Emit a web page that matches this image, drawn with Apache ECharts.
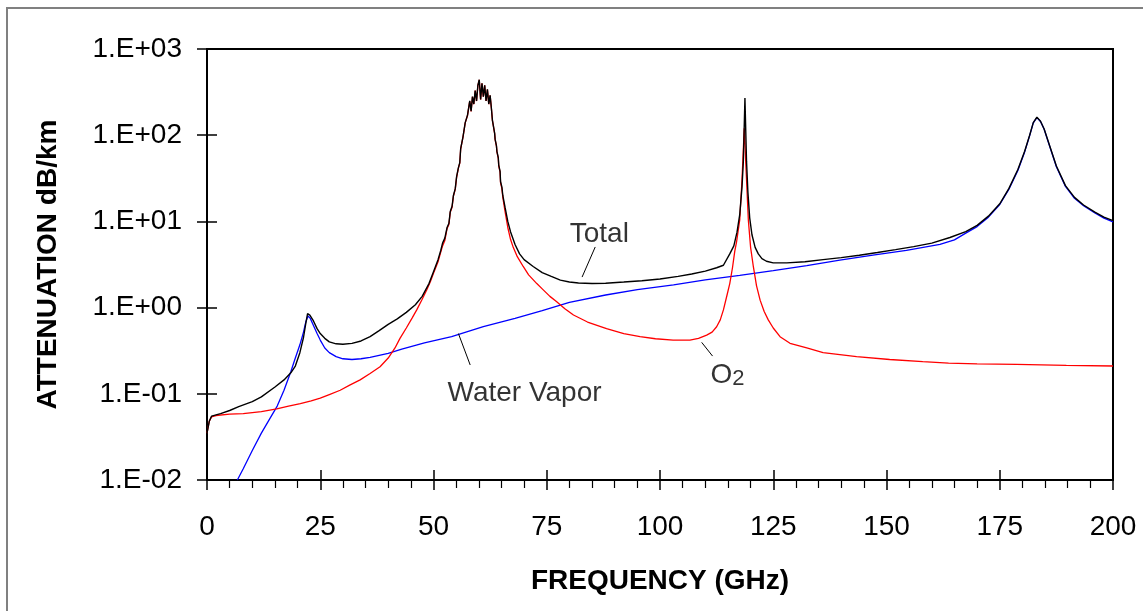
<!DOCTYPE html>
<html>
<head>
<meta charset="utf-8">
<script src="https://cdn.jsdelivr.net/npm/echarts@6/dist/echarts.min.js"></script>
<style>html,body{margin:0;padding:0;background:#fff;}#c{width:1143px;height:611px;}</style>
</head>
<body>
<div id="c"></div>
<script>
// ---- data ----
const xTicks = [0, 25, 50, 75, 100, 125, 150, 175, 200];
const yTickLabels = ['1.E-02', '1.E-01', '1.E+00', '1.E+01', '1.E+02', '1.E+03'];

const totalFreq = [0,0.5,1,2,3,5,7,10,12,15,17,18.5,19.5,20.5,21.3,21.8,22.2,22.7,23.5,24.3,25,26,27,28.5,30,32,34,36,38,40,42,44,46,47.5,49,50,51,51.6,52,52.5,53,53.4,53.7,54.1,54.4,54.8,55.1,55.5,55.8,56,56.5,57,57.5,58,58.3,58.6,58.9,59.2,59.5,59.8,60.1,60.4,60.7,61,61.3,61.6,61.9,62.2,62.5,62.8,63.0,63.2,63.5,63.6,63.9,64,64.3,64.4,64.7,64.8,65.1,65.3,65.8,66.4,67,68,69,70,72,74,76,78,80,82,85,88,92,96,100,104,107,110,112.5,114,115.4,116.3,117,117.6,118.1,118.4,118.75,119.1,119.4,119.8,120.3,121,121.7,122.5,123.5,125,128,132,136,140,144,148,152,156,160,164,167.5,170,172.5,175,177,179,180.5,181.6,182.4,183.2,184,184.8,186,187.5,189.5,191.5,193.5,196,198,200];
const totalVal = [0.035,0.048,0.055,0.057,0.059,0.064,0.071,0.081,0.092,0.12,0.145,0.175,0.21,0.30,0.45,0.65,0.85,0.82,0.70,0.57,0.50,0.44,0.40,0.38,0.375,0.385,0.41,0.46,0.54,0.64,0.74,0.88,1.08,1.35,1.9,2.6,3.6,4.6,5.6,6.4,8.5,9.5,13,15,20,24,33,42,48,70,95,140,170,250,190,280,230,330,250,380,440,260,400,280,380,250,340,230,290,200,150,130,105,90,75,65,55,45,38,29,25,20,14.5,10,7.6,5.4,4.2,3.6,3.0,2.55,2.3,2.08,1.98,1.93,1.9,1.92,1.98,2.05,2.15,2.3,2.45,2.65,2.9,3.1,4.2,5.2,7.5,12,25,50,270,50,22,11,7.0,5.0,4.2,3.7,3.45,3.3,3.3,3.4,3.6,3.8,4.05,4.35,4.7,5.1,5.6,6.5,7.6,9.0,11.5,16,24,40,65,100,140,162,145,118,76,44,26,19,15.5,12.8,11.2,10.2];

const o2Freq = [0,0.5,1,2,5,8,12,15.4,18,20.6,23,25,27,29.4,31.5,33.8,36,38.2,40,41.5,42.6,44,45.3,46.3,47.5,48.5,49.3,50,51,51.6,52,52.5,53,53.4,53.7,54.1,54.4,54.8,55.1,55.5,55.8,56,56.5,57,57.5,58,58.3,58.6,58.9,59.2,59.5,59.8,60.1,60.4,60.7,61,61.3,61.6,61.9,62.2,62.5,62.8,63.0,63.2,63.5,63.6,63.9,64,64.3,64.4,64.7,64.8,65.1,65.3,65.8,66.4,67,67.6,68.5,69.8,71,72.8,74,75.7,77.2,79,80.9,84,88.2,92,95.6,99,102.9,106.6,108.5,110.3,111.5,112.5,113.3,114,114.8,115.4,116,116.5,116.9,117.6,118.1,118.6,119,119.5,120,120.6,121.3,122.1,123,123.9,125,126.5,128.7,132.4,136,139.7,143.4,150.7,158,163.7,170,178.7,189.7,200];
const o2Val = [0.035,0.048,0.054,0.056,0.058,0.059,0.062,0.067,0.072,0.077,0.083,0.089,0.098,0.11,0.126,0.145,0.172,0.206,0.26,0.34,0.44,0.58,0.76,0.94,1.25,1.6,2.0,2.5,3.4,4.4,5.2,6.0,8.3,9.2,12.8,14.6,19.7,23.5,32.5,41.5,47.5,69.5,94.5,139,169,249,189,279,229,329,249,379,439,259,399,279,379,249,339,229,289,199,149,129,104,89,74,64,54,44,37,28,24,19,13,8.5,6.2,5.0,3.9,3.0,2.4,1.9,1.65,1.35,1.17,0.97,0.82,0.68,0.57,0.50,0.46,0.435,0.42,0.42,0.44,0.48,0.52,0.60,0.72,0.94,1.4,1.9,2.9,4.5,5.8,10.4,30,120,40,10.4,5.0,3.0,1.8,1.22,0.90,0.72,0.58,0.46,0.385,0.34,0.30,0.285,0.27,0.25,0.236,0.227,0.223,0.219,0.214,0.21];

const wvFreq = [6.7,8,10,12,14,15.5,17,18.5,19.5,20.5,21.3,21.8,22.3,22.8,23.5,24.3,25,26,27,28.5,30,32,34,36,40,43,48,54,61,68,74,80,88,95,103,110,117.6,125,132.4,139.7,147,154.4,161.8,165,167.5,170,172.5,175,177,179,180.5,181.6,182.4,183.2,184,184.8,186,187.5,189.5,191.5,193.5,196,198,200];
const wvVal = [0.01,0.0135,0.022,0.035,0.053,0.072,0.11,0.18,0.26,0.37,0.52,0.68,0.80,0.75,0.62,0.50,0.42,0.34,0.30,0.27,0.255,0.25,0.255,0.265,0.295,0.33,0.39,0.46,0.60,0.75,0.92,1.15,1.40,1.62,1.83,2.1,2.37,2.68,3.06,3.55,4.07,4.6,5.4,6.1,7.3,8.7,11.2,15.7,23.5,39,64,99,139,160,144,117,75,43,25.5,18.5,15.2,12.5,10.9,9.9];

const noteText = ['Total', 'Water Vapor', 'O2'];
const notePos = [[86.6, 7.15], [70.1, 0.102], [114.9, 0.165]];
const leaderLines = [
  [[82.8, 2.26], [85.7, 5.05]],
  [[55.5, 0.50], [58.1, 0.216]],
  [[109.2, 0.395], [111.6, 0.274]]
];

// ---- build ----
const zip = (a, b) => a.map((x, i) => [x, b[i]]);
const FONT = '"Liberation Sans", Arial, sans-serif';
const chart = echarts.init(document.getElementById('c'));

const yLabel = v => {
  const e = Math.round(Math.log10(v));
  return yTickLabels[e + 2] || '';
};

const baseX = {
  type: 'value', min: 0, max: 200, interval: 25, gridIndex: 0,
  splitLine: { show: false }
};
const baseY = {
  type: 'log', logBase: 10, min: 0.01, max: 1000, gridIndex: 0,
  splitLine: { show: false }
};

chart.setOption({
  animation: false,
  backgroundColor: '#fff',
  textStyle: { fontFamily: FONT },
  graphic: [{
    type: 'rect', shape: { x: 7, y: 8, width: 1160, height: 640 },
    style: { fill: 'none', stroke: '#808080', lineWidth: 2 }, z: -10
  }],
  grid: { left: 207, right: 30, top: 49, bottom: 131, show: true, borderColor: '#000', borderWidth: 2, backgroundColor: 'transparent' },
  xAxis: [
    Object.assign({}, baseX, {
      position: 'bottom',
      axisLine: { show: true, lineStyle: { color: '#000', width: 2 } },
      axisTick: { show: true, inside: false, length: 10, lineStyle: { color: '#000', width: 1.5 } },
      minorTick: { show: true, splitNumber: 5, length: 8, lineStyle: { color: '#000', width: 1.2 } },
      axisLabel: { fontSize: 28, color: '#000', margin: 33, fontFamily: FONT },
      name: 'FREQUENCY (GHz)', nameLocation: 'middle', nameGap: 87,
      nameTextStyle: { fontSize: 28, fontWeight: 'bold', color: '#000', fontFamily: FONT }
    }),
    Object.assign({}, baseX, {
      position: 'bottom',
      axisLine: { show: false },
      axisTick: { show: true, inside: true, length: 10, lineStyle: { color: '#000', width: 1.5 } },
      axisLabel: { show: false }
    })
  ],
  yAxis: [
    Object.assign({}, baseY, {
      position: 'left',
      axisLine: { show: true, lineStyle: { color: '#000', width: 2 } },
      axisTick: { show: true, inside: false, length: 10, lineStyle: { color: '#000', width: 1.5 } },
      axisLabel: { fontSize: 28, color: '#000', margin: 25, formatter: yLabel, fontFamily: FONT },
      name: 'ATTENUATION dB/km', nameLocation: 'middle', nameGap: 145, nameRotate: 90,
      nameTextStyle: { fontSize: 28, fontWeight: 'bold', color: '#000', fontFamily: FONT }
    }),
    Object.assign({}, baseY, {
      position: 'left',
      axisLine: { show: false },
      axisTick: { show: true, inside: true, length: 10, lineStyle: { color: '#000', width: 1.5 } },
      axisLabel: { show: false }
    })
  ],
  series: [
    {
      name: 'Water Vapor', type: 'line', data: zip(wvFreq, wvVal), showSymbol: false,
      lineStyle: { color: '#0000ff', width: 1.3 }, itemStyle: { color: '#0000ff' }, clip: true, z: 2
    },
    {
      name: 'O2', type: 'line', data: zip(o2Freq, o2Val), showSymbol: false,
      lineStyle: { color: '#ff0000', width: 1.3 }, itemStyle: { color: '#ff0000' }, clip: true, z: 3
    },
    {
      name: 'Total', type: 'line', data: zip(totalFreq, totalVal), showSymbol: false,
      lineStyle: { color: '#000000', width: 1.4 }, itemStyle: { color: '#000' }, clip: true, z: 4
    },
    {
      type: 'lines', coordinateSystem: 'cartesian2d', xAxisIndex: 0, yAxisIndex: 0,
      data: leaderLines.map(c => ({ coords: c })),
      lineStyle: { color: '#000', width: 1, opacity: 1 }, z: 5, silent: true
    },
    {
      type: 'scatter', symbolSize: 0, z: 6, silent: true,
      data: notePos.map((p, i) => ({ value: p, name: noteText[i] })),
      label: {
        show: true, position: 'inside', color: '#000', fontSize: 28, fontFamily: FONT,
        formatter: p => p.name === 'O2' ? '{o|O}{s|2}' : p.name,
        rich: {
          o: { fontSize: 28, color: '#000', fontFamily: FONT },
          s: { fontSize: 22, color: '#000', fontFamily: FONT, padding: [8, 0, 0, 0] }
        }
      }
    }
  ]
});
</script>
</body>
</html>
